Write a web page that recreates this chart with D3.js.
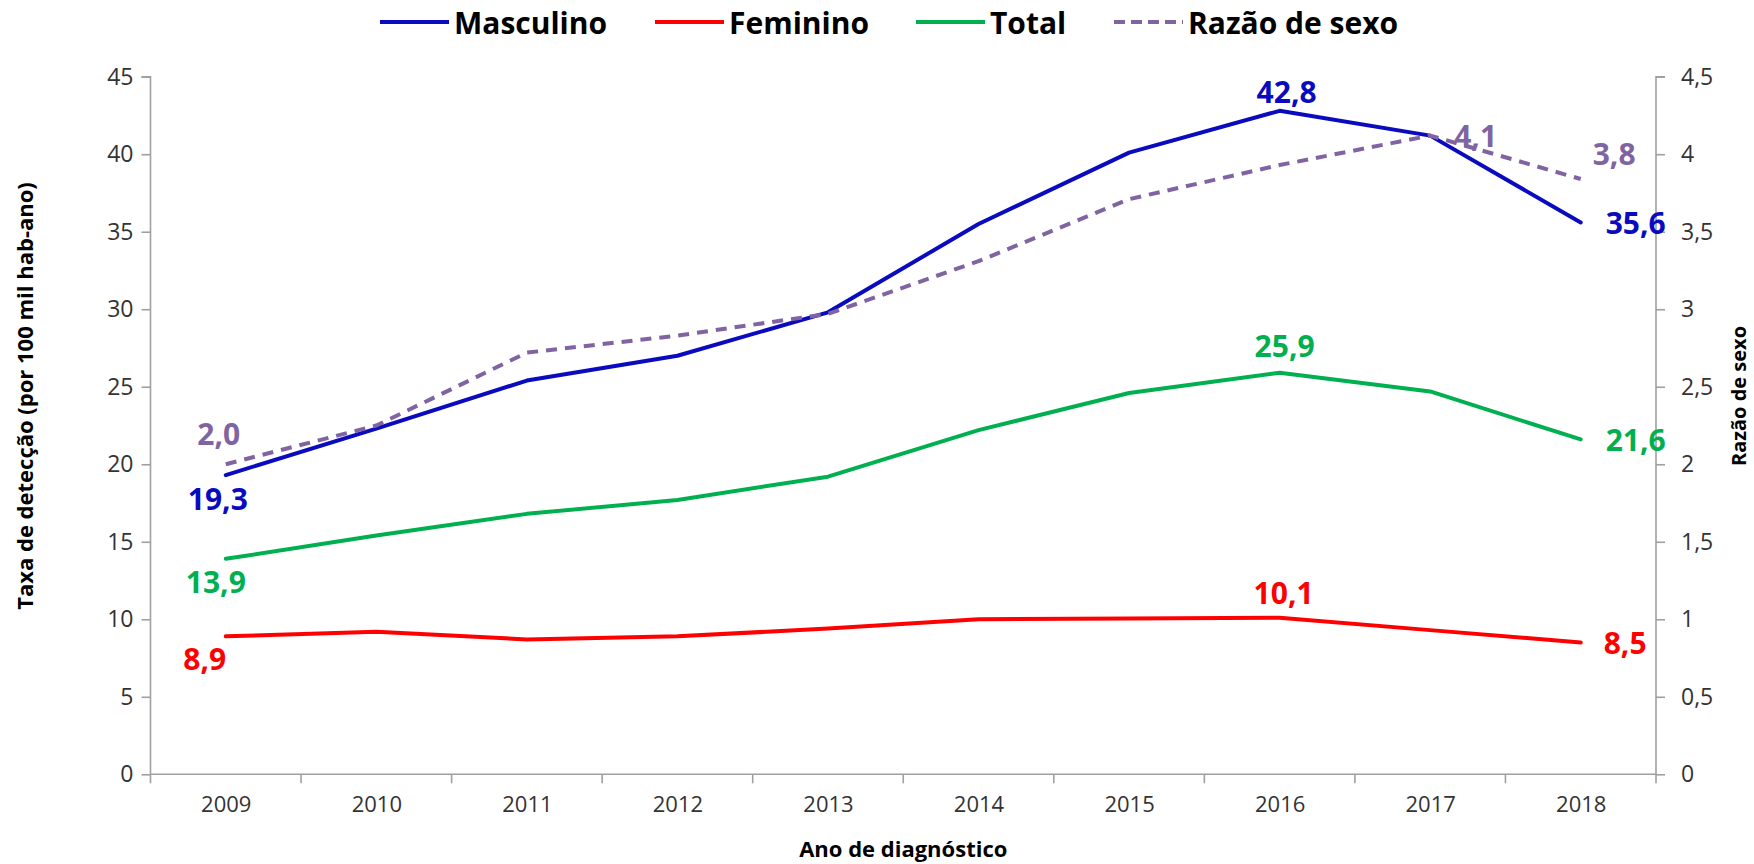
<!DOCTYPE html>
<html>
<head>
<meta charset="utf-8">
<script src="https://cdn.jsdelivr.net/npm/d3@7"></script>
<style>
  html, body { margin: 0; padding: 0; background: #fff; }
  svg { display: block; font-family: "Open Sans", "Noto Sans", sans-serif; }
</style>
</head>
<body>
<svg id="chart" width="1754" height="864"></svg>
<script>
// ---------- DATA ----------
const years = ["2009", "2010", "2011", "2012", "2013", "2014", "2015", "2016", "2017", "2018"];
const masculino = [19.3, 22.3, 25.4, 27.0, 29.8, 35.5, 40.1, 42.8, 41.2, 35.6];
const feminino  = [8.9, 9.2, 8.7, 8.9, 9.4, 10.0, 10.05, 10.1, 9.3, 8.5];
const total     = [13.9, 15.4, 16.8, 17.7, 19.2, 22.2, 24.6, 25.9, 24.7, 21.6];
const razao     = [2.0, 2.25, 2.72, 2.83, 2.97, 3.31, 3.71, 3.93, 4.12, 3.84];
const leftTicks  = [0, 5, 10, 15, 20, 25, 30, 35, 40, 45];
const rightTicks = [0, 0.5, 1, 1.5, 2, 2.5, 3, 3.5, 4, 4.5];
const seriesNames = ["Masculino", "Feminino", "Total", "Razão de sexo"];
const yTitle = "Taxa de detecção (por 100 mil hab-ano)";
const y2Title = "Razão de sexo";
const xTitle = "Ano de diagnóstico";
// labelled points: series index, year index
const labelled = [
  [0, 0], [0, 7], [0, 9],
  [1, 0], [1, 7], [1, 9],
  [2, 0], [2, 7], [2, 9],
  [3, 0], [3, 8], [3, 9]
];

// ---------- LAYOUT / STYLE ----------
const colors = ["#0A0ABF", "#FF0000", "#00B050", "#8064A2"];
const plot = { left: 150.5, right: 1656, top: 76.7, bottom: 774.3 };
const axisColor = "#A0A0A0";
const tickColor = "#333333";
// label placement (anchor, dx, dy) keyed by "s-i"
const labelPlace = {
  "0-0": ["middle", -8, 23], "0-7": ["middle", 7, -19], "0-9": ["start", 25, 0],
  "1-0": ["middle", -21, 22], "1-7": ["middle", 4, -25], "1-9": ["start", 23, 0],
  "2-0": ["middle", -10, 23], "2-7": ["middle", 5, -27], "2-9": ["start", 25, 0],
  "3-0": ["middle", -7, -31], "3-8": ["start", 24, 0], "3-9": ["start", 12, -26]
};

const svg = d3.select("#chart");
const x = d3.scalePoint().domain(years).range([plot.left, plot.right]).padding(0.5);
const step = x.step();
const y = d3.scaleLinear().domain([0, 45]).range([plot.bottom, plot.top]);
const y2 = d3.scaleLinear().domain([0, 4.5]).range([plot.bottom, plot.top]);

// ---------- AXES ----------
const gL = svg.append("g").attr("transform", `translate(${plot.left},0)`)
  .call(d3.axisLeft(y).tickValues(leftTicks).tickSize(9).tickPadding(8).tickFormat(d => String(d)));
const gR = svg.append("g").attr("transform", `translate(${plot.right},0)`)
  .call(d3.axisRight(y2).tickValues(rightTicks).tickSize(9).tickPadding(16)
    .tickFormat(d => String(d).replace(".", ",")));
const gB = svg.append("g").attr("transform", `translate(0,${plot.bottom})`)
  .call(d3.axisBottom(x).tickSize(0).tickPadding(22));

[gL, gR, gB].forEach(g => {
  g.select(".domain").attr("stroke", axisColor).attr("stroke-width", 1.6);
  g.selectAll(".tick line").attr("stroke", axisColor).attr("stroke-width", 1.6);
  g.selectAll(".tick text").attr("fill", tickColor).style("font-size", "22px")
    .style("font-family", "'Open Sans', sans-serif");
});
gL.selectAll(".tick text").style("font-size", "23px");
gR.selectAll(".tick text").style("font-size", "23px");
gL.select(".domain").attr("d", `M-9,${plot.top}H0V${plot.bottom}`);
gR.select(".domain").attr("d", `M9,${plot.top}H0V${plot.bottom}`);
gB.select(".domain").attr("d", `M${plot.left},0H${plot.right}`);
gB.selectAll(".tick text").attr("dy", "0.71em").attr("y", 22);

// x boundary ticks
const bounds = years.map(yr => x(yr) - step / 2).concat([x(years[years.length - 1]) + step / 2]);
gB.selectAll("line.bound").data(bounds).enter().append("line")
  .attr("class", "bound")
  .attr("x1", d => d).attr("x2", d => d).attr("y1", 0).attr("y2", 9)
  .attr("stroke", axisColor).attr("stroke-width", 1.6);

// ---------- LINES ----------
const allSeries = [masculino, feminino, total, razao];
const scales = [y, y, y, y2];
allSeries.forEach((vals, s) => {
  const line = d3.line().x((d, i) => x(years[i])).y(d => scales[s](d));
  const p = svg.append("path").datum(vals)
    .attr("d", line).attr("fill", "none")
    .attr("stroke", colors[s]).attr("stroke-width", 4)
    .attr("stroke-linejoin", "round").attr("stroke-linecap", "round");
  if (s === 3) p.attr("stroke-dasharray", "11,8").attr("stroke-linecap", "butt");
});

// ---------- DATA LABELS ----------
labelled.forEach(([s, i]) => {
  const v = allSeries[s][i];
  const pl = labelPlace[s + "-" + i];
  svg.append("text")
    .attr("x", x(years[i]) + pl[1])
    .attr("y", scales[s](v) + pl[2])
    .attr("text-anchor", pl[0])
    .attr("dominant-baseline", "central")
    .attr("fill", colors[s])
    .style("font-size", "30px").style("font-weight", "bold")
    .text(v.toFixed(1).replace(".", ","));
});

// ---------- AXIS TITLES ----------
svg.append("text")
  .attr("transform", `translate(24,396) rotate(-90)`)
  .attr("text-anchor", "middle").attr("dominant-baseline", "central")
  .style("font-size", "22px").style("font-weight", "bold").attr("fill", "#000")
  .text(yTitle);
svg.append("text")
  .attr("transform", `translate(1738,396) rotate(-90)`)
  .attr("text-anchor", "middle").attr("dominant-baseline", "central")
  .style("font-size", "20px").style("font-weight", "bold").attr("fill", "#000")
  .text(y2Title);
svg.append("text")
  .attr("x", (plot.left + plot.right) / 2).attr("y", 848)
  .attr("text-anchor", "middle").attr("dominant-baseline", "central")
  .style("font-size", "22px").style("font-weight", "bold").attr("fill", "#000")
  .text(xTitle);

// ---------- LEGEND ----------
const legendX = [380, 655, 916, 1114];
const legend = svg.append("g");
seriesNames.forEach((name, s) => {
  const g = legend.append("g").attr("transform", `translate(${legendX[s]},22)`);
  const ln = g.append("line").attr("x1", 0).attr("x2", 69).attr("y1", 0).attr("y2", 0)
    .attr("stroke", colors[s]).attr("stroke-width", 4);
  if (s === 3) ln.attr("stroke-dasharray", "11,6");
  g.append("text").attr("x", 74).attr("y", 0)
    .attr("dominant-baseline", "central")
    .style("font-size", "30px").style("font-weight", "bold").attr("fill", "#000")
    .text(name);
});
</script>
</body>
</html>
